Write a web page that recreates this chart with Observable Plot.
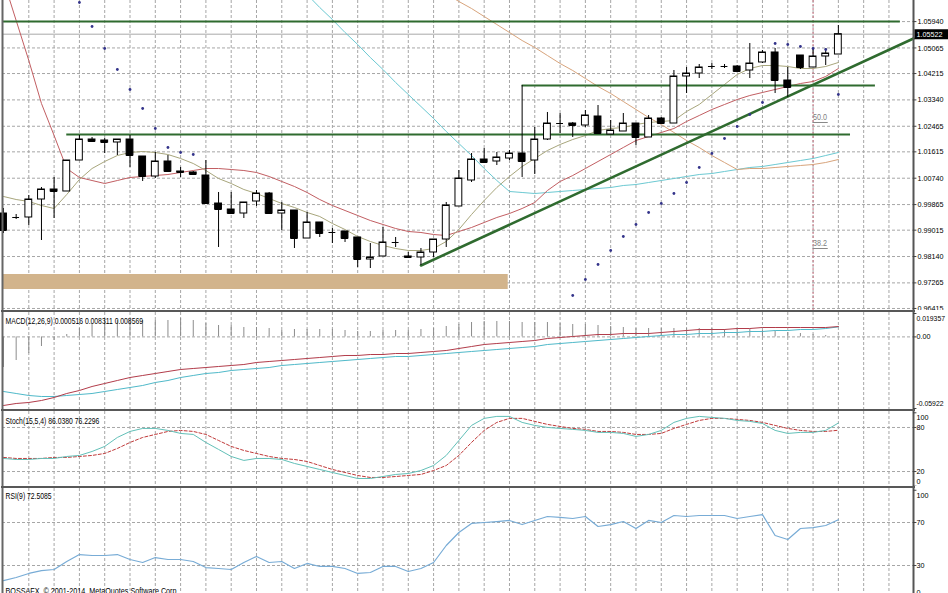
<!DOCTYPE html>
<html><head><meta charset="utf-8">
<script src="https://cdn.jsdelivr.net/npm/d3@7"></script>
<script src="https://cdn.jsdelivr.net/npm/@observablehq/plot@0.6"></script>
<style>
html,body{margin:0;padding:0;background:#fff;overflow:hidden;}
#chart{position:relative;width:948px;height:593px;overflow:hidden;background:#fff;}
.panel{position:absolute;left:0;width:948px;}
.panel svg{display:block;}
.sep{position:absolute;left:1px;width:914px;height:2px;background:#585858;}
</style></head><body><div id="chart"></div>
<script>
// ---------- DATA ----------
const opens  = [0.99568,0.99436,0.99436,1.00033,1.00365,1.00299,1.01328,1.02025,1.01992,1.01926,1.02025,1.01461,1.00797,1.01295,1.00963,1.00930,1.00830,0.99900,0.99701,0.99568,0.99967,1.00232,0.99568,0.99668,0.98738,0.99270,0.98938,0.98971,0.98772,0.98041,0.98141,0.98606,0.98141,0.98108,0.98274,0.98705,0.99801,1.00664,1.01361,1.01295,1.01394,1.01560,1.01328,1.02025,1.02556,1.02556,1.02490,1.02789,1.02191,1.02291,1.02556,1.02092,1.02722,1.02556,1.04117,1.04216,1.04449,1.04449,1.04449,1.04316,1.04582,1.04914,1.03984,1.04814,1.04416,1.04781,1.04847];
const highs  = [0.99734,0.99535,1.00166,1.00432,1.00764,1.01328,1.02158,1.02092,1.02058,1.02025,1.02158,1.01461,1.01594,1.01494,1.01096,1.00963,1.01328,1.00266,1.00266,0.99934,1.00332,1.00266,0.99934,0.99668,0.99602,0.99270,0.99070,0.98971,0.98772,0.98572,0.99104,0.98772,0.98274,0.98406,0.98705,0.99934,1.00996,1.01560,1.01726,1.01594,1.01660,1.03818,1.02424,1.02922,1.02888,1.02590,1.02988,1.03154,1.02656,1.02888,1.02556,1.02822,1.02756,1.04316,1.04416,1.04515,1.04548,1.04515,1.04482,1.05212,1.04980,1.05046,1.04416,1.04814,1.05046,1.05046,1.05810];
const lows   = [0.98904,0.99369,0.99170,0.98672,0.99402,1.00299,1.01328,1.01926,1.01560,1.01494,1.01096,1.00631,1.00730,1.00963,1.00764,1.00830,0.99900,0.98440,0.99568,0.99402,0.99801,0.99568,0.99004,0.98406,0.98738,0.98772,0.98572,0.98606,0.97776,0.97742,0.98141,0.98440,0.98074,0.97842,0.98108,0.98440,0.99801,1.00598,1.01262,1.01162,1.01328,1.00764,1.00863,1.01992,1.02224,1.02092,1.02424,1.02224,1.02191,1.02291,1.01826,1.02092,1.02523,1.02556,1.03552,1.04050,1.04349,1.04382,1.04283,1.04050,1.04548,1.03552,1.03420,1.04349,1.04416,1.04482,1.04847];
const closes = [0.99004,0.99436,1.00033,1.00365,1.00299,1.01328,1.02025,1.01959,1.01926,1.02025,1.01494,1.00797,1.01295,1.00963,1.00930,1.00863,0.99900,0.99701,0.99568,0.99934,1.00232,0.99568,0.99668,0.98738,0.99270,0.98904,0.98938,0.98738,0.98041,0.98108,0.98606,0.98606,0.98108,0.98274,0.98705,0.99834,1.00730,1.01361,1.01262,1.01428,1.01560,1.01295,1.02025,1.02556,1.02556,1.02490,1.02822,1.02224,1.02324,1.02556,1.02092,1.02722,1.02556,1.04117,1.04216,1.04416,1.04449,1.04449,1.04283,1.04548,1.04914,1.03984,1.03752,1.04416,1.04781,1.04880,1.05522];

const maFast = [1.00133,1.00033,0.99967,0.99834,0.99734,1.00199,1.00697,1.01062,1.01295,1.01494,1.01594,1.01627,1.01594,1.01527,1.01394,1.01228,1.00996,1.00730,1.00564,1.00365,1.00232,1.00066,0.99900,0.99768,0.99602,0.99469,0.99236,0.99037,0.98805,0.98639,0.98506,0.98406,0.98340,0.98340,0.98406,0.98639,0.99037,0.99535,1.00000,1.00432,1.00797,1.01129,1.01394,1.01660,1.01859,1.02025,1.02158,1.02324,1.02390,1.02424,1.02523,1.02590,1.02623,1.02656,1.02955,1.03187,1.03519,1.03851,1.04183,1.04382,1.04482,1.04482,1.04449,1.04382,1.04382,1.04449,1.04582];
const maMid = [1.07304,1.05976,1.04648,1.03220,1.02158,1.01062,1.00764,1.00664,1.00564,1.00664,1.00764,1.00797,1.00830,1.00863,1.00930,1.00996,1.01062,1.01062,1.01029,1.00996,1.00930,1.00797,1.00631,1.00465,1.00266,1.00033,0.99834,0.99668,0.99502,0.99336,0.99203,0.99070,0.98971,0.98938,0.98871,0.98838,0.98971,0.99104,0.99270,0.99436,0.99568,0.99734,0.99934,1.00332,1.00631,1.00830,1.01062,1.01295,1.01527,1.01760,1.01992,1.02125,1.02258,1.02390,1.02623,1.02822,1.03021,1.03187,1.03353,1.03486,1.03586,1.03685,1.03785,1.03884,1.03951,1.04117,1.04382];
const maCyanStart = 23;
const maCyan = [1.07238,1.06839,1.06408,1.06009,1.05578,1.05179,1.04748,1.04349,1.03918,1.03519,1.03121,1.02722,1.02291,1.01892,1.01494,1.01062,1.00664,1.00299,1.00266,1.00232,1.00266,1.00299,1.00332,1.00365,1.00398,1.00432,1.00498,1.00531,1.00598,1.00664,1.00730,1.00797,1.00863,1.00896,1.00963,1.01029,1.01096,1.01129,1.01195,1.01262,1.01328,1.01394,1.01494,1.01594];
const maTanStart = 35;
const maTan = [1.06872,1.06607,1.06374,1.06109,1.05843,1.05578,1.05312,1.05080,1.04814,1.04548,1.04316,1.04050,1.03785,1.03552,1.03287,1.03021,1.02756,1.02523,1.02258,1.01992,1.01760,1.01494,1.01262,1.01029,1.01062,1.01062,1.01096,1.01129,1.01162,1.01195,1.01262,1.01361];

const sarIdx = [6,7,8,9,10,11,12,13,14,15,45,46,47,48,49,50,51,52,53,54,55,56,57,58,59,60,61,62,63,64,65,66];
const sarVal = [1.06574,1.05777,1.05046,1.04349,1.03685,1.03054,1.02390,1.01760,1.01594,1.01527,0.96846,0.97377,0.97875,0.98340,0.98805,0.99203,0.99602,0.99900,1.00232,1.00598,1.01096,1.01560,1.02058,1.02457,1.02855,1.03254,1.05212,1.05179,1.05113,1.05046,1.05013,1.03519];

const priceTicks = [1.05940,1.05065,1.04215,1.03340,1.02465,1.01615,1.00740,0.99865,0.99015,0.98140,0.97265,0.96415];
const lastPrice = 1.05522;
const hLevels = [1.05940, 1.02191, 1.03818];
const hFrom   = [-0.08, 5, 41];
const hTo     = [70.9, 66.96, 68.93];
const trendIdx   = [33, 71.94];
const trendPrice = [0.97842, 1.05378];
const zoneFrom = -0.08, zoneTo = 39.9, zoneLow = 0.97045, zoneHigh = 0.97543;
const fiboIdx = 64;
const fiboLevels = [1.02590, 0.98406];
const fiboLabels = ["50.0", "38.2"];

const macdHist = [-0.02531,-0.01952,-0.01373,-0.00794,-0.00298,0.00198,0.00695,0.01108,0.01356,0.01356,0.01356,0.01356,0.01356,0.01356,0.01522,0.01356,0.01108,0.00943,0.00943,0.00777,0.00777,0.00695,0.00529,0.00612,0.00612,0.00612,0.00612,0.00529,0.00447,0.00447,0.00529,0.00529,0.00529,0.00612,0.00695,0.00860,0.01025,0.01191,0.01274,0.01274,0.01274,0.01191,0.01191,0.01191,0.01108,0.01025,0.01025,0.00943,0.00860,0.00777,0.00695,0.00695,0.00695,0.00695,0.00695,0.00695,0.00695,0.00612,0.00612,0.00612,0.00529,0.00447,0.00364,0.00281,0.00198,0.00116,0.000516];
const macdRed = [-0.05673,-0.05508,-0.05425,-0.05260,-0.05012,-0.04681,-0.04433,-0.04102,-0.03854,-0.03606,-0.03358,-0.03192,-0.03027,-0.02861,-0.02696,-0.02613,-0.02531,-0.02448,-0.02365,-0.02283,-0.02117,-0.02034,-0.01952,-0.01869,-0.01786,-0.01704,-0.01621,-0.01538,-0.01538,-0.01456,-0.01456,-0.01373,-0.01373,-0.01290,-0.01207,-0.01125,-0.00959,-0.00794,-0.00629,-0.00546,-0.00463,-0.00380,-0.00298,-0.00132,-0.00050,0.00033,0.00116,0.00198,0.00198,0.00281,0.00281,0.00281,0.00364,0.00447,0.00529,0.00612,0.00612,0.00612,0.00695,0.00695,0.00777,0.00777,0.00777,0.00777,0.00777,0.00777,0.00857];
const macdCyan = [-0.04515,-0.04681,-0.04846,-0.04929,-0.04929,-0.04846,-0.04764,-0.04681,-0.04515,-0.04350,-0.04185,-0.04019,-0.03771,-0.03606,-0.03358,-0.03192,-0.03027,-0.02944,-0.02779,-0.02696,-0.02613,-0.02531,-0.02365,-0.02283,-0.02200,-0.02117,-0.02034,-0.01952,-0.01869,-0.01786,-0.01704,-0.01621,-0.01621,-0.01538,-0.01456,-0.01373,-0.01290,-0.01207,-0.01125,-0.01042,-0.00959,-0.00877,-0.00794,-0.00629,-0.00546,-0.00463,-0.00380,-0.00298,-0.00215,-0.00132,-0.00050,0.00033,0.00116,0.00198,0.00198,0.00281,0.00281,0.00364,0.00364,0.00447,0.00447,0.00529,0.00529,0.00612,0.00612,0.00695,0.00831];
const macdMax = 0.019357, macdMin = -0.05922;

const stochMain = [37.8,36.4,36.4,37.8,37.8,40.5,41.9,47.3,54.2,66.4,74.6,78.7,78.7,76.0,71.9,70.5,59.6,50.1,40.5,35.1,37.8,37.8,36.4,31.0,26.9,22.8,18.7,14.6,10.5,10.5,13.2,16.0,17.3,21.4,28.2,41.9,62.3,82.8,92.4,95.1,95.1,86.9,82.8,80.1,78.7,77.4,76.0,73.3,73.3,71.9,67.8,70.5,76.0,86.9,92.4,95.1,93.7,92.4,89.6,88.3,85.5,76.0,71.9,73.3,73.3,76.0,86.04];
const stochSignal = [39.2,37.8,37.8,37.8,39.2,39.2,40.5,41.9,44.6,51.4,59.6,66.4,70.5,74.6,76.0,74.6,70.5,62.3,54.2,48.7,44.6,40.5,37.8,36.4,33.7,28.2,22.8,18.7,14.6,11.9,11.9,13.2,14.6,16.0,21.4,28.2,41.9,59.6,76.0,86.9,92.4,92.4,88.3,84.2,81.4,78.7,77.4,74.6,74.6,73.3,70.5,70.5,71.9,78.7,84.2,89.6,92.4,92.4,91.0,89.6,86.9,82.8,78.7,76.0,74.6,74.6,76.23];
const rsi = [16.0,18.8,22.6,25.3,26.3,33.7,40.2,39.3,39.3,40.2,35.6,32.8,37.4,35.6,35.6,33.7,28.1,27.2,26.3,32.8,38.4,32.8,33.7,27.2,31.9,29.1,29.1,27.2,22.6,23.5,29.1,29.1,24.4,27.2,32.8,48.6,60.7,69.1,70.0,70.9,71.9,68.1,71.9,75.6,74.7,73.7,75.6,66.3,68.1,70.9,64.4,71.9,70.0,76.5,75.6,76.5,76.5,76.5,73.7,75.6,77.4,57.9,54.2,64.4,65.3,67.2,72.5];

const macdTitle = "MACD(12,26,9) 0.000516 0.008311 0.008569";
const stochTitle = "Stoch(15,5,4) 86.0380 76.2296";
const rsiTitle = "RSI(9) 72.5085";
const caption = "BOSSAFX, \u00a9 2001-2014, MetaQuotes Software Corp.";
const macdTicks = [{v: macdMax, t: "0.019357"}, {v: 0, t: "0.00"}, {v: macdMin, t: "-0.05922"}];
const stochTicks = [{v: 100, t: "100"}, {v: 80, t: "80"}, {v: 20, t: "20"}, {v: 0, t: "0"}];
const rsiTicks = [{v: 100, t: "100"}, {v: 70, t: "70"}, {v: 30, t: "30"}, {v: 0, t: "0"}];

// ---------- BUILD ----------
const FONT = '"Liberation Sans",Arial,sans-serif';
const SQUEEZE_TITLE = 0.8, SQUEEZE_AXIS = 0.9;
const X_DOMAIN = [-0.08, 71.94];
const X_RANGE = [2, 913];
const gridIdx = d3.range(2, 72, 2);
const GRID = {stroke: "#a6a6a6", strokeDasharray: "3,2", strokeWidth: 1};
const series = arr => arr.map((v, i) => ({i, v}));
const seriesFrom = (start, arr) => arr.map((v, k) => ({i: start + k, v}));
const candles = opens.map((o, i) => ({i, o, h: highs[i], l: lows[i], c: closes[i]}));
const sar = sarIdx.map((i, k) => ({i, v: sarVal[k]}));
const hLines = hLevels.map((p, k) => ({p, a: hFrom[k], b: hTo[k]}));
const trend = trendIdx.map((i, k) => ({i, v: trendPrice[k]}));
const fibo = fiboLevels.map((p, k) => ({p, t: fiboLabels[k]}));

function borders() {
  return [
    Plot.ruleX([X_DOMAIN[0]], {x: d => d, stroke: "#666", strokeWidth: 2}),
    Plot.ruleX([X_DOMAIN[1]], {x: d => d, stroke: "#555", strokeWidth: 2})
  ];
}
function sideTicks(ticks) {
  const marks = [Plot.ruleY(ticks, {y: "v", x1: X_DOMAIN[1], x2: X_DOMAIN[1] + 0.27, stroke: "#444"})];
  const n = ticks.length;
  ticks.forEach((t, k) => {
    const dy = k === 0 ? 5 : (k === n - 1 ? -5 : 0);
    const fs = t.t.length > 6 ? 7.6 : 8;
    marks.push(Plot.text([t], {y: "v", text: "t", frameAnchor: "right", dx: 3, dy, textAnchor: "start", fontSize: fs, fill: "#000", className: "ax"}));
  });
  return marks;
}
function panel(height, yScale, marks) {
  return Plot.plot({
    width: 948, height, marginLeft: 2, marginRight: 35, marginTop: 0, marginBottom: 0,
    x: {domain: X_DOMAIN, range: X_RANGE, axis: null},
    y: {...yScale, axis: null},
    style: {fontFamily: FONT, fontSize: "9px", background: "transparent"},
    marks
  });
}

const mainY = {domain: [0.96348, 1.0664], range: [310, 0]};
const main = panel(310, mainY, [
  Plot.ruleX(gridIdx, {x: d => d, ...GRID}),
  Plot.ruleY(priceTicks, {y: d => d, ...GRID}),
  Plot.rect([{a: zoneFrom, b: zoneTo, lo: zoneLow, hi: zoneHigh}], {x1: "a", x2: "b", y1: "lo", y2: "hi", fill: "#d2b48c"}),
  Plot.ruleY([lastPrice], {y: d => d, stroke: "#a8a8a8"}),
  Plot.ruleX([fiboIdx], {x: d => d, stroke: "#c87080", strokeDasharray: "2,2"}),
  Plot.line(seriesFrom(maCyanStart, maCyan), {x: "i", y: "v", stroke: "#6cc9d2", strokeWidth: 1, clip: true}),
  Plot.line(seriesFrom(maTanStart, maTan), {x: "i", y: "v", stroke: "#d8a47c", strokeWidth: 1, clip: true}),
  Plot.line(series(maMid), {x: "i", y: "v", stroke: "#c25e62", strokeWidth: 1, clip: true}),
  Plot.line(series(maFast), {x: "i", y: "v", stroke: "#a8a67c", strokeWidth: 1, clip: true}),
  Plot.ruleY(hLines, {y: "p", x1: "a", x2: "b", stroke: "#2f6b2f", strokeWidth: 2}),
  Plot.line(trend, {x: "i", y: "v", stroke: "#2f6b2f", strokeWidth: 2.6}),
  Plot.ruleY(fibo, {y: "p", x1: fiboIdx, x2: fiboIdx + 1.2, stroke: "#888"}),
  Plot.text(fibo, {x: fiboIdx, y: "p", text: "t", textAnchor: "start", dy: -5, fill: "#808080", fontSize: 9}),
  Plot.ruleX(candles, {x: "i", y1: "l", y2: "h", stroke: "#000", strokeWidth: 1}),
  Plot.rect(candles, {x1: d => d.i - 0.27, x2: d => d.i + 0.27, y1: "o", y2: "c", fill: d => d.c >= d.o ? "#fff" : "#000", stroke: "#000", strokeWidth: 1}),
  Plot.ruleY(candles, {y: "c", x1: d => d.i - 0.27, x2: d => d.i + 0.27, stroke: "#000", strokeWidth: 1}),
  Plot.dot(sar, {x: "i", y: "v", r: 1.4, fill: "#33338a", stroke: "none"}),
  ...borders(),
  Plot.ruleY(priceTicks, {y: d => d, x1: X_DOMAIN[1], x2: X_DOMAIN[1] + 0.27, stroke: "#444"}),
  Plot.text(priceTicks, {y: d => d, text: d => d.toFixed(5), frameAnchor: "right", dx: 4, textAnchor: "start", fontSize: 8, fill: "#000", className: "ax"}),
  Plot.ruleY([lastPrice], {y: d => d, x1: X_DOMAIN[1] + 0.12, x2: X_DOMAIN[1] + 2.9, stroke: "#000", strokeWidth: 10}),
  Plot.text([lastPrice], {y: d => d, text: d => d.toFixed(5), frameAnchor: "right", dx: 3, textAnchor: "start", fontSize: 8, fill: "#fff", className: "ax"})
]);

const macd = panel(97, {domain: [macdMin, macdMax], range: [96, 1]}, [
  Plot.ruleX(gridIdx, {x: d => d, ...GRID}),
  Plot.ruleY([0], {y: d => d, ...GRID}),
  Plot.ruleX(series(macdHist), {x: "i", y1: 0, y2: "v", stroke: "#8c8c8c", strokeWidth: 1}),
  Plot.line(series(macdCyan), {x: "i", y: "v", stroke: "#4fb9c9", strokeWidth: 1}),
  Plot.line(series(macdRed), {x: "i", y: "v", stroke: "#b23c4a", strokeWidth: 1}),
  Plot.text([macdTitle], {text: d => d, frameAnchor: "top-left", dx: 3, dy: 9, lineAnchor: "middle", textAnchor: "start", fontSize: 8.5, fill: "#000"}),
  ...borders(),
  ...sideTicks(macdTicks)
]);

const stoch = panel(75, {domain: [0, 100], range: [74.7, 1.3]}, [
  Plot.ruleX(gridIdx, {x: d => d, ...GRID}),
  Plot.ruleY([80, 20], {y: d => d, ...GRID}),
  Plot.line(series(stochSignal), {x: "i", y: "v", stroke: "#c03a3a", strokeWidth: 1, strokeDasharray: "3,2"}),
  Plot.line(series(stochMain), {x: "i", y: "v", stroke: "#62c0b8", strokeWidth: 1}),
  Plot.text([stochTitle], {text: d => d, frameAnchor: "top-left", dx: 3, dy: 10, lineAnchor: "middle", textAnchor: "start", fontSize: 8.5, fill: "#000"}),
  ...borders(),
  ...sideTicks(stochTicks)
]);

const rsiPlot = panel(110, {domain: [0, 100], range: [109.25, 1.75]}, [
  Plot.ruleX(gridIdx, {x: d => d, ...GRID}),
  Plot.ruleY([70, 30], {y: d => d, ...GRID}),
  Plot.line(series(rsi), {x: "i", y: "v", stroke: "#78acd6", strokeWidth: 1.2}),
  Plot.text([rsiTitle], {text: d => d, frameAnchor: "top-left", dx: 3, dy: 8, lineAnchor: "middle", textAnchor: "start", fontSize: 8.5, fill: "#000"}),
  Plot.text([caption], {text: d => d, frameAnchor: "top-left", dx: 3, dy: 99, lineAnchor: "top", textAnchor: "start", fontSize: 9, fill: "#000"}),
  ...borders(),
  ...sideTicks(rsiTicks)
]);

const root = document.getElementById("chart");
function place(el, top, h) {
  const d = document.createElement("div");
  d.className = "panel"; d.style.top = top + "px"; d.style.height = h + "px"; d.style.overflow = "hidden";
  d.appendChild(el); root.appendChild(d);
}
function sep(top) {
  const d = document.createElement("div"); d.className = "sep"; d.style.top = top + "px"; root.appendChild(d);
}
place(main, 0, 310);
place(macd, 312, 97);
place(stoch, 411, 75);
place(rsiPlot, 488, 110);
sep(310); sep(409); sep(486);
// narrow the text like the terminal's condensed font
root.querySelectorAll("svg text").forEach(t => {
  const len = t.getComputedTextLength();
  const sq = t.closest(".ax") ? SQUEEZE_AXIS : SQUEEZE_TITLE;
  if (len > 0) { t.setAttribute("textLength", (len * sq).toFixed(2)); t.setAttribute("lengthAdjust", "spacingAndGlyphs"); }
});
</script></body></html>
